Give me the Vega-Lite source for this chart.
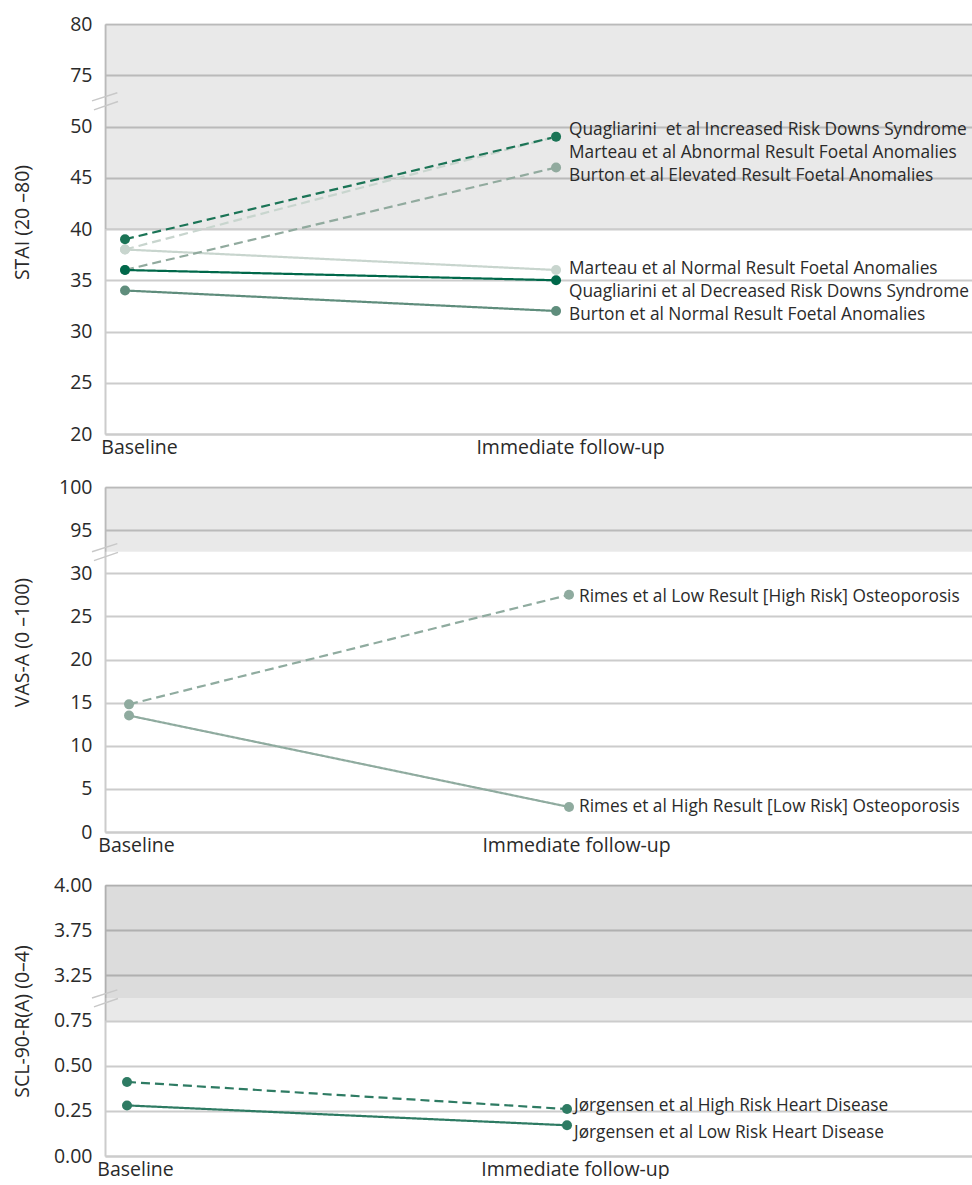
{
"$schema": "https://vega.github.io/schema/vega-lite/v6.json",
"padding": {"left": 12, "top": 14, "right": 0, "bottom": 0},
"spacing": 20,
"datasets": {
"stai": [
{"series": "Marteau et al Abnormal Result Foetal Anomalies", "result": "Abnormal", "time": "Baseline", "value": 38},
{"series": "Marteau et al Abnormal Result Foetal Anomalies", "result": "Abnormal", "time": "Immediate follow-up", "value": 49},
{"series": "Marteau et al Normal Result Foetal Anomalies", "result": "Normal", "time": "Baseline", "value": 38},
{"series": "Marteau et al Normal Result Foetal Anomalies", "result": "Normal", "time": "Immediate follow-up", "value": 36},
{"series": "Burton et al Normal Result Foetal Anomalies", "result": "Normal", "time": "Baseline", "value": 34},
{"series": "Burton et al Normal Result Foetal Anomalies", "result": "Normal", "time": "Immediate follow-up", "value": 32},
{"series": "Burton et al Elevated Result Foetal Anomalies", "result": "Abnormal", "time": "Baseline", "value": 36},
{"series": "Burton et al Elevated Result Foetal Anomalies", "result": "Abnormal", "time": "Immediate follow-up", "value": 46},
{"series": "Quagliarini et al Decreased Risk Downs Syndrome", "result": "Normal", "time": "Baseline", "value": 36},
{"series": "Quagliarini et al Decreased Risk Downs Syndrome", "result": "Normal", "time": "Immediate follow-up", "value": 35},
{"series": "Quagliarini\u00a0 et al Increased Risk Downs Syndrome", "result": "Abnormal", "time": "Baseline", "value": 39},
{"series": "Quagliarini\u00a0 et al Increased Risk Downs Syndrome", "result": "Abnormal", "time": "Immediate follow-up", "value": 49}
],
"vas": [
{"series": "Rimes et al High Result [Low Risk] Osteoporosis", "result": "Normal", "time": "Baseline", "value": 13.5},
{"series": "Rimes et al High Result [Low Risk] Osteoporosis", "result": "Normal", "time": "Immediate follow-up", "value": 2.9},
{"series": "Rimes et al Low Result [High Risk] Osteoporosis", "result": "Abnormal", "time": "Baseline", "value": 14.8},
{"series": "Rimes et al Low Result [High Risk] Osteoporosis", "result": "Abnormal", "time": "Immediate follow-up", "value": 27.5}
],
"scl": [
{"series": "Jørgensen et al Low Risk Heart Disease", "result": "Normal", "time": "Baseline", "value": 0.28},
{"series": "Jørgensen et al Low Risk Heart Disease", "result": "Normal", "time": "Immediate follow-up", "value": 0.17},
{"series": "Jørgensen et al High Risk Heart Disease", "result": "Abnormal", "time": "Baseline", "value": 0.41},
{"series": "Jørgensen et al High Risk Heart Disease", "result": "Abnormal", "time": "Immediate follow-up", "value": 0.26}
]
},
"vconcat": [
{
"width": 869, "height": 410,
"layer": [
{"data": {"values": [{}]}, "mark": {"type": "rect", "color": "#000000", "opacity": 0.088},
 "encoding": {"y": {"datum": 40, "type": "quantitative", "scale": {"domain": [20, 60], "nice": false, "zero": false}}, "y2": {"datum": 60}}},
{"data": {"name": "stai"}, "mark": {"type": "line", "strokeWidth": 2.2},
 "encoding": {
  "x": {"field": "time", "type": "nominal", "scale": {"type": "point", "domain": ["Baseline", "Immediate follow-up"], "padding": 0.508, "align": 0.0457}, "axis": {"labelOffset": 14}},
  "y": {"field": "value", "type": "quantitative", "scale": {"domain": [20, 60], "nice": false, "zero": false},
        "axis": {"title": "STAI (20 –80)", "titleX": -83, "titleY": 198, "titleAngle": 270, "titleAlign": "center", "titleBaseline": "middle",
                 "values": [20, 25, 30, 35, 40, 45, 50, 55, 60], "labelExpr": "datum.value==55?'75':datum.value==60?'80':datum.label"}},
  "color": {"field": "series", "type": "nominal", "legend": null, "scale": {"domain": ["Marteau et al Abnormal Result Foetal Anomalies", "Marteau et al Normal Result Foetal Anomalies", "Burton et al Normal Result Foetal Anomalies", "Burton et al Elevated Result Foetal Anomalies", "Quagliarini et al Decreased Risk Downs Syndrome", "Quagliarini\u00a0 et al Increased Risk Downs Syndrome"], "range": ["#c8d5ce", "#c8d5ce", "#5f8d7c", "#91aa9e", "#00684a", "#1b7456"]}},
  "strokeDash": {"field": "result", "type": "nominal", "legend": null, "scale": {"domain": ["Abnormal", "Normal"], "range": [[9, 5], [1, 0]]}}
 }},
{"data": {"name": "stai"}, "mark": {"type": "point", "filled": true, "size": 100, "opacity": 1},
 "encoding": {
  "x": {"field": "time", "type": "nominal", "scale": {"type": "point", "domain": ["Baseline", "Immediate follow-up"], "padding": 0.508, "align": 0.0457}},
  "y": {"field": "value", "type": "quantitative", "scale": {"domain": [20, 60], "nice": false, "zero": false}},
  "color": {"field": "series", "type": "nominal", "legend": null}
 }},
{"data": {"name": "stai"}, "transform": [{"filter": "datum.time=='Immediate follow-up' && datum.series=='Quagliarini\u00a0 et al Increased Risk Downs Syndrome'"}],
 "mark": {"type": "text", "align": "left", "baseline": "middle", "dx": 13, "dy": -7, "fontSize": 17.3, "font": "Open Sans", "color": "#2a2a2a"},
 "encoding": {"x": {"field": "time", "type": "nominal"}, "y": {"field": "value", "type": "quantitative"}, "text": {"field": "series"}}},
{"data": {"name": "stai"}, "transform": [{"filter": "datum.time=='Immediate follow-up' && datum.series=='Marteau et al Abnormal Result Foetal Anomalies'"}],
 "mark": {"type": "text", "align": "left", "baseline": "middle", "dx": 13, "dy": 16, "fontSize": 17.3, "font": "Open Sans", "color": "#2a2a2a"},
 "encoding": {"x": {"field": "time", "type": "nominal"}, "y": {"field": "value", "type": "quantitative"}, "text": {"field": "series"}}},
{"data": {"name": "stai"}, "transform": [{"filter": "datum.time=='Immediate follow-up' && datum.series=='Burton et al Elevated Result Foetal Anomalies'"}],
 "mark": {"type": "text", "align": "left", "baseline": "middle", "dx": 13, "dy": 8, "fontSize": 17.3, "font": "Open Sans", "color": "#2a2a2a"},
 "encoding": {"x": {"field": "time", "type": "nominal"}, "y": {"field": "value", "type": "quantitative"}, "text": {"field": "series"}}},
{"data": {"name": "stai"}, "transform": [{"filter": "datum.time=='Immediate follow-up' && datum.series=='Marteau et al Normal Result Foetal Anomalies'"}],
 "mark": {"type": "text", "align": "left", "baseline": "middle", "dx": 13, "dy": -1, "fontSize": 17.3, "font": "Open Sans", "color": "#2a2a2a"},
 "encoding": {"x": {"field": "time", "type": "nominal"}, "y": {"field": "value", "type": "quantitative"}, "text": {"field": "series"}}},
{"data": {"name": "stai"}, "transform": [{"filter": "datum.time=='Immediate follow-up' && datum.series=='Quagliarini et al Decreased Risk Downs Syndrome'"}],
 "mark": {"type": "text", "align": "left", "baseline": "middle", "dx": 13, "dy": 12, "fontSize": 17.3, "font": "Open Sans", "color": "#2a2a2a"},
 "encoding": {"x": {"field": "time", "type": "nominal"}, "y": {"field": "value", "type": "quantitative"}, "text": {"field": "series"}}},
{"data": {"name": "stai"}, "transform": [{"filter": "datum.time=='Immediate follow-up' && datum.series=='Burton et al Normal Result Foetal Anomalies'"}],
 "mark": {"type": "text", "align": "left", "baseline": "middle", "dx": 13, "dy": 4, "fontSize": 17.3, "font": "Open Sans", "color": "#2a2a2a"},
 "encoding": {"x": {"field": "time", "type": "nominal"}, "y": {"field": "value", "type": "quantitative"}, "text": {"field": "series"}}},
{"data": {"values": [{}]}, "mark": {"type": "point", "shape": "M-1,0L0.95,-0.62M-0.85,0.69L1,0.05", "filled": false, "color": "#c8c8c8", "strokeWidth": 1.5, "size": 676, "opacity": 1},
 "encoding": {"x": {"value": 0}, "y": {"datum": 52.5, "type": "quantitative"}}}
]
},
{
"width": 869, "height": 345,
"layer": [
{"data": {"values": [{}]}, "mark": {"type": "rect", "color": "#000000", "opacity": 0.088},
 "encoding": {"y": {"datum": 32.5, "type": "quantitative", "scale": {"domain": [0, 40], "nice": false, "zero": false}}, "y2": {"datum": 40}}},
{"data": {"name": "vas"}, "mark": {"type": "line", "strokeWidth": 2.2, "color": "#8fab9f"},
 "encoding": {
  "x": {"field": "time", "type": "nominal", "scale": {"type": "point", "domain": ["Baseline", "Immediate follow-up"], "padding": 0.4875, "align": 0.056}, "axis": {"labelOffset": 7}},
  "y": {"field": "value", "type": "quantitative", "scale": {"domain": [0, 40], "nice": false, "zero": false},
        "axis": {"title": "VAS-A (0 –100)", "titleX": -83, "titleY": 155, "titleAngle": 270, "titleAlign": "center", "titleBaseline": "middle",
                 "values": [0, 5, 10, 15, 20, 25, 30, 35, 40], "labelExpr": "datum.value==35?'95':datum.value==40?'100':datum.label"}},
  "detail": {"field": "series", "type": "nominal"},
  "strokeDash": {"field": "result", "type": "nominal", "legend": null, "scale": {"domain": ["Abnormal", "Normal"], "range": [[9, 5], [1, 0]]}}
 }},
{"data": {"name": "vas"}, "mark": {"type": "point", "filled": true, "size": 100, "opacity": 1, "color": "#8fab9f"},
 "encoding": {
  "x": {"field": "time", "type": "nominal", "scale": {"type": "point", "domain": ["Baseline", "Immediate follow-up"], "padding": 0.4875, "align": 0.056}},
  "y": {"field": "value", "type": "quantitative", "scale": {"domain": [0, 40], "nice": false, "zero": false}}
 }},
{"data": {"name": "vas"}, "transform": [{"filter": "datum.time=='Immediate follow-up' && datum.series=='Rimes et al Low Result [High Risk] Osteoporosis'"}],
 "mark": {"type": "text", "align": "left", "baseline": "middle", "dx": 10, "dy": 2, "fontSize": 17.3, "font": "Open Sans", "color": "#2a2a2a"},
 "encoding": {"x": {"field": "time", "type": "nominal"}, "y": {"field": "value", "type": "quantitative"}, "text": {"field": "series"}}},
{"data": {"name": "vas"}, "transform": [{"filter": "datum.time=='Immediate follow-up' && datum.series=='Rimes et al High Result [Low Risk] Osteoporosis'"}],
 "mark": {"type": "text", "align": "left", "baseline": "middle", "dx": 10, "dy": 0, "fontSize": 17.3, "font": "Open Sans", "color": "#2a2a2a"},
 "encoding": {"x": {"field": "time", "type": "nominal"}, "y": {"field": "value", "type": "quantitative"}, "text": {"field": "series"}}},
{"data": {"values": [{}]}, "mark": {"type": "point", "shape": "M-1,0L0.95,-0.62M-0.85,0.69L1,0.05", "filled": false, "color": "#c8c8c8", "strokeWidth": 1.5, "size": 676, "opacity": 1},
 "encoding": {"x": {"value": 0}, "y": {"datum": 32.5, "type": "quantitative"}}}
]
},
{
"width": 869, "height": 271,
"layer": [
{"data": {"values": [{}]}, "mark": {"type": "rect", "color": "#000000", "opacity": 0.086},
 "encoding": {"y": {"datum": 0.75, "type": "quantitative", "scale": {"domain": [0, 1.5], "nice": false, "zero": false}}, "y2": {"datum": 0.875}}},
{"data": {"values": [{}]}, "mark": {"type": "rect", "color": "#000000", "opacity": 0.137},
 "encoding": {"y": {"datum": 0.875, "type": "quantitative"}, "y2": {"datum": 1.5}}},
{"data": {"name": "scl"}, "mark": {"type": "line", "strokeWidth": 2.2, "color": "#2e7b63"},
 "encoding": {
  "x": {"field": "time", "type": "nominal", "scale": {"type": "point", "domain": ["Baseline", "Immediate follow-up"], "padding": 0.4875, "align": 0.0513}, "axis": {"labelOffset": 8}},
  "y": {"field": "value", "type": "quantitative", "scale": {"domain": [0, 1.5], "nice": false, "zero": false},
        "axis": {"title": "SCL-90-R(A) (0–4)", "titleX": -83, "titleY": 136, "titleAngle": 270, "titleAlign": "center", "titleBaseline": "middle",
                 "values": [0, 0.25, 0.5, 0.75, 1, 1.25, 1.5], "labelExpr": "datum.value==1?'3.25':datum.value==1.25?'3.75':datum.value==1.5?'4.00':format(datum.value,'.2f')"}},
  "detail": {"field": "series", "type": "nominal"},
  "strokeDash": {"field": "result", "type": "nominal", "legend": null, "scale": {"domain": ["Abnormal", "Normal"], "range": [[9, 5], [1, 0]]}}
 }},
{"data": {"name": "scl"}, "mark": {"type": "point", "filled": true, "size": 100, "opacity": 1, "color": "#2e7b63"},
 "encoding": {
  "x": {"field": "time", "type": "nominal", "scale": {"type": "point", "domain": ["Baseline", "Immediate follow-up"], "padding": 0.4875, "align": 0.0513}},
  "y": {"field": "value", "type": "quantitative", "scale": {"domain": [0, 1.5], "nice": false, "zero": false}}
 }},
{"data": {"name": "scl"}, "transform": [{"filter": "datum.time=='Immediate follow-up' && datum.series=='Jørgensen et al High Risk Heart Disease'"}],
 "mark": {"type": "text", "align": "left", "baseline": "middle", "dx": 7, "dy": -3, "fontSize": 17.3, "font": "Open Sans", "color": "#2a2a2a"},
 "encoding": {"x": {"field": "time", "type": "nominal"}, "y": {"field": "value", "type": "quantitative"}, "text": {"field": "series"}}},
{"data": {"name": "scl"}, "transform": [{"filter": "datum.time=='Immediate follow-up' && datum.series=='Jørgensen et al Low Risk Heart Disease'"}],
 "mark": {"type": "text", "align": "left", "baseline": "middle", "dx": 7, "dy": 8, "fontSize": 17.3, "font": "Open Sans", "color": "#2a2a2a"},
 "encoding": {"x": {"field": "time", "type": "nominal"}, "y": {"field": "value", "type": "quantitative"}, "text": {"field": "series"}}},
{"data": {"values": [{}]}, "mark": {"type": "point", "shape": "M-1,0L0.95,-0.62M-0.85,0.69L1,0.05", "filled": false, "color": "#c8c8c8", "strokeWidth": 1.5, "size": 676, "opacity": 1},
 "encoding": {"x": {"value": 0}, "y": {"datum": 0.875, "type": "quantitative"}}}
]
}
],
"config": {
"font": "Open Sans",
"view": {"stroke": null},
"axis": {"ticks": false, "domainColor": "#cccccc", "domainWidth": 2, "gridColor": "#cccccc", "gridWidth": 2,
  "labelFont": "Open Sans", "labelFontSize": 19.5, "labelColor": "#2a2a2a", "labelFontWeight": "normal",
  "titleFont": "Open Sans", "titleFontSize": 19.5, "titleFontWeight": "normal", "titleColor": "#2a2a2a"},
"axisX": {"grid": false, "title": null, "labelPadding": 4, "labelAlign": "center", "labelAngle": 0, "labelLimit": 0},
"axisY": {"grid": true, "labelPadding": 13}
}
}
